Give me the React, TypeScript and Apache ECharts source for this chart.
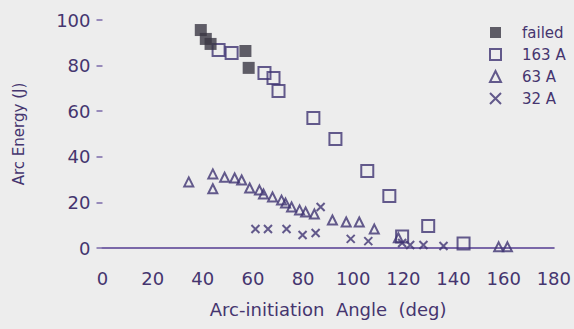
import React, { useEffect, useRef } from "react";
import * as echarts from "echarts";

const xTicks = [0, 20, 40, 60, 80, 100, 120, 140, 160, 180];
const yTicks = [0, 20, 40, 60, 80, 100];

const failedX = [39.2, 41.2, 43.1, 57.0, 58.3];
const failedY = [95.6, 91.7, 89.5, 86.4, 79.0];

const a163X = [46.3, 51.5, 64.6, 68.2, 70.2, 84.1, 92.9, 105.6, 114.4, 119.5, 129.9, 144.0];
const a163Y = [86.8, 85.5, 76.8, 74.6, 68.9, 57.0, 47.8, 33.8, 22.8, 5.0, 9.6, 2.0];

const a63X = [34.4, 44.0, 44.0, 48.7, 52.7, 55.5, 58.7, 62.6, 64.2, 67.8, 71.4, 73.0, 75.4, 78.6, 81.0, 84.5, 91.7, 97.2, 102.4, 108.4, 118.0, 158.0, 161.5];
const a63Y = [29.0, 32.5, 26.0, 31.0, 30.7, 29.8, 26.3, 25.4, 23.7, 22.4, 21.0, 19.7, 18.0, 16.7, 15.8, 14.9, 12.3, 11.4, 11.4, 8.3, 4.5, 0.5, 0.5];

const a32X = [61.0, 66.0, 73.4, 79.8, 85.0, 87.0, 99.0, 106.0, 119.5, 122.7, 128.0, 136.0];
const a32Y = [8.3, 8.3, 8.3, 5.7, 6.6, 18.0, 4.0, 3.0, 2.2, 1.3, 1.3, 0.9];

const seriesNames = ["failed", "163 A", "63 A", "32 A"];

const zip = (xs: number[], ys: number[]) => xs.map((x, i) => [x, ys[i]]);

const TEXT = "#45356f";
const MARK = "#3f3372";
const FONT = "DejaVu Sans";

export default function App() {
  const ref = useRef<HTMLDivElement>(null);
  useEffect(() => {
    if (!ref.current) return;
    const chart = echarts.init(ref.current, undefined, { renderer: "svg" });
    const hollow = { color: "transparent", borderColor: MARK, borderWidth: 2 };
    chart.setOption({
      animation: false,
      backgroundColor: "#ededed",
      textStyle: { fontFamily: FONT, color: TEXT },
      legend: {
        orient: "vertical",
        left: 484,
        top: 20,
        itemWidth: 11,
        itemHeight: 11,
        itemGap: 7,
        textStyle: { fontFamily: FONT, fontSize: 15, color: TEXT, padding: [0, 0, 0, 16] },
        data: seriesNames,
      },
      grid: { left: 102.5, right: 19, top: 20, bottom: 81 },
      xAxis: {
        type: "value",
        min: 0,
        max: 180,
        interval: 20,
        name: "Arc-initiation  Angle  (deg)",
        nameLocation: "middle",
        nameGap: 52,
        nameTextStyle: { fontFamily: FONT, fontSize: 18, color: TEXT },
        axisLine: { show: true, lineStyle: { color: "#7a68a8", width: 2 } },
        axisTick: { show: false },
        splitLine: { show: false },
        axisLabel: {
          margin: 21,
          fontFamily: FONT,
          fontSize: 18,
          color: TEXT,
          formatter: (v: number) => (xTicks.includes(v) ? String(v) : ""),
        },
      },
      yAxis: {
        type: "value",
        min: 0,
        max: 100,
        interval: 20,
        name: "Arc Energy (J)",
        nameLocation: "middle",
        nameGap: 76,
        nameTextStyle: { fontFamily: FONT, fontSize: 15, color: TEXT },
        axisLine: { show: false },
        axisTick: { show: true, length: 6, lineStyle: { color: "#7a68a8", width: 1.5 } },
        splitLine: { show: false },
        axisLabel: {
          margin: 12,
          fontFamily: FONT,
          fontSize: 18,
          color: TEXT,
          formatter: (v: number) => (yTicks.includes(v) ? String(v) : ""),
        },
      },
      series: [
        {
          name: seriesNames[0],
          type: "scatter",
          symbol: "rect",
          symbolSize: 12,
          itemStyle: { color: "#3a3744" },
          data: zip(failedX, failedY),
          z: 3,
        },
        {
          name: seriesNames[1],
          type: "scatter",
          symbol: "rect",
          symbolSize: 12,
          itemStyle: hollow,
          data: zip(a163X, a163Y),
        },
        {
          name: seriesNames[2],
          type: "scatter",
          symbol: "triangle",
          symbolSize: 9,
          itemStyle: hollow,
          data: zip(a63X, a63Y),
        },
        {
          name: seriesNames[3],
          type: "scatter",
          symbol: "path://M0,0L10,10M10,0L0,10",
          symbolSize: 8,
          itemStyle: hollow,
          data: zip(a32X, a32Y),
        },
      ],
    });
    return () => chart.dispose();
  }, []);
  return (
    <div
      ref={ref}
      style={{ position: "fixed", left: 0, top: 0, width: 574, height: 329 }}
    />
  );
}
